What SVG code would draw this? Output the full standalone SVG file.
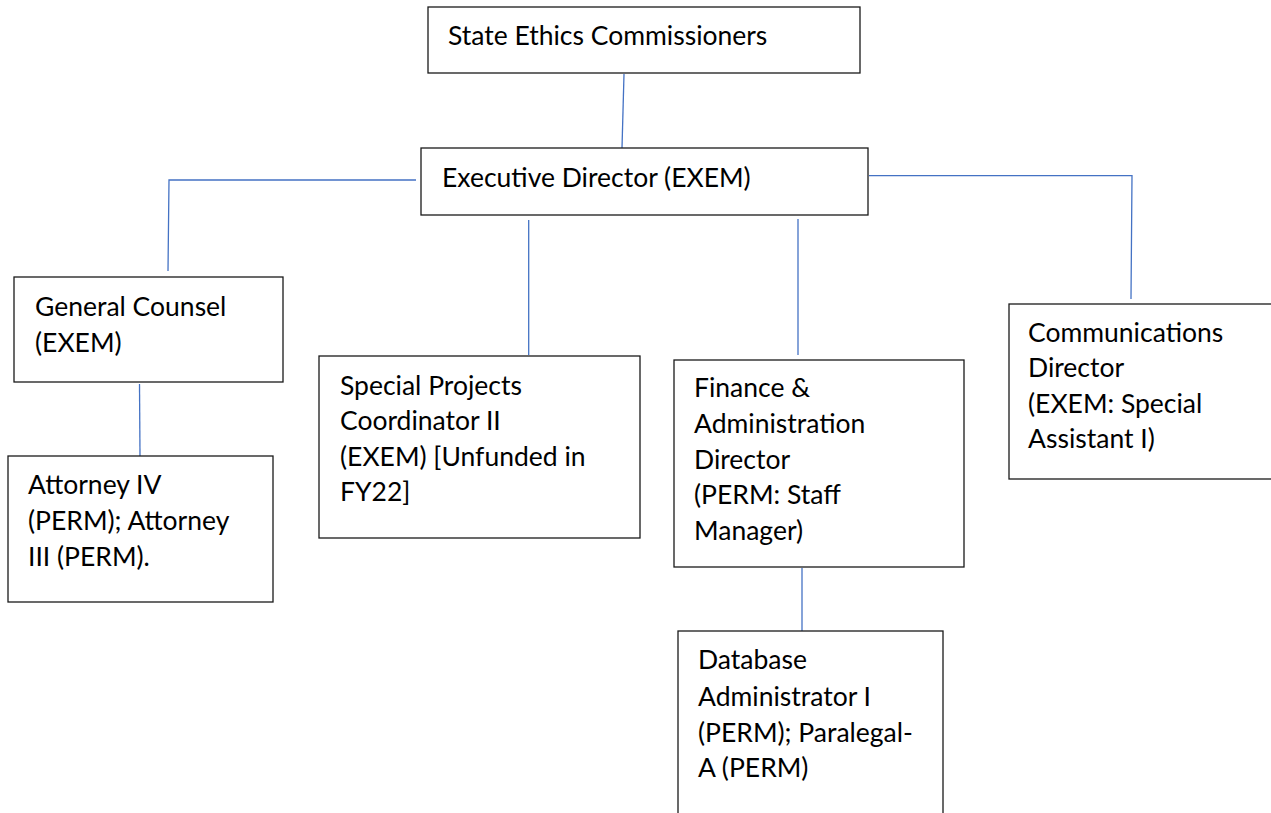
<svg xmlns="http://www.w3.org/2000/svg" width="1271" height="813" viewBox="0 0 1271 813">
<style>
.box{fill:#fff;stroke:#1a1a1a;stroke-width:1.3}
.t{font-family:Lato,"Open Sans","Liberation Sans",sans-serif;font-size:26.5px;fill:#000}
.c{stroke:#4472C4;stroke-width:1.3;fill:none}
</style>
<rect width="1271" height="813" fill="#fff"/>
<g id="connectors">
<line class="c" x1="624" y1="74" x2="622" y2="148"/>
<polyline class="c" points="416,180 169,180 168,271"/>
<line class="c" x1="139.5" y1="384" x2="140" y2="456"/>
<line class="c" x1="528.7" y1="220" x2="528.7" y2="355"/>
<line class="c" x1="798" y1="219" x2="798" y2="355"/>
<polyline class="c" points="869,175.7 1132,175.7 1131,299"/>
<line class="c" x1="802" y1="568" x2="802" y2="631"/>
</g>
<g id="state-ethics-commissioners">
<rect class="box" x="428" y="7" width="432" height="66"/>
<text class="t" x="448" y="45">State Ethics Commissioners</text>
</g>
<g id="executive-director">
<rect class="box" x="421" y="148" width="447" height="67"/>
<text class="t" x="442" y="187">Executive Director (EXEM)</text>
</g>
<g id="general-counsel">
<rect class="box" x="14" y="277" width="269" height="105"/>
<text class="t" x="35"><tspan x="35" y="316">General Counsel</tspan><tspan x="35" y="352">(EXEM)</tspan></text>
</g>
<g id="attorney">
<rect class="box" x="8" y="456" width="265" height="146"/>
<text class="t"><tspan x="28" y="494">Attorney IV</tspan><tspan x="28" y="530">(PERM); Attorney</tspan><tspan x="28" y="566">III (PERM).</tspan></text>
</g>
<g id="special-projects">
<rect class="box" x="319" y="356" width="321" height="182"/>
<text class="t"><tspan x="340" y="395">Special Projects</tspan><tspan x="340" y="430">Coordinator II</tspan><tspan x="340" y="466">(EXEM) [Unfunded in</tspan><tspan x="340" y="501">FY22]</tspan></text>
</g>
<g id="finance-admin">
<rect class="box" x="674" y="360" width="290" height="207"/>
<text class="t"><tspan x="694" y="397">Finance &amp;</tspan><tspan x="694" y="433">Administration</tspan><tspan x="694" y="469">Director</tspan><tspan x="694" y="504">(PERM: Staff</tspan><tspan x="694" y="540">Manager)</tspan></text>
</g>
<g id="communications">
<rect class="box" x="1009" y="304" width="280" height="175"/>
<text class="t"><tspan x="1028" y="342">Communications</tspan><tspan x="1028" y="377">Director</tspan><tspan x="1028" y="413">(EXEM: Special</tspan><tspan x="1028" y="448">Assistant I)</tspan></text>
</g>
<g id="database-admin">
<rect class="box" x="678" y="631" width="265" height="200"/>
<text class="t"><tspan x="698" y="669">Database</tspan><tspan x="698" y="706">Administrator I</tspan><tspan x="698" y="742">(PERM); Paralegal-</tspan><tspan x="698" y="777">A (PERM)</tspan></text>
</g>
</svg>
